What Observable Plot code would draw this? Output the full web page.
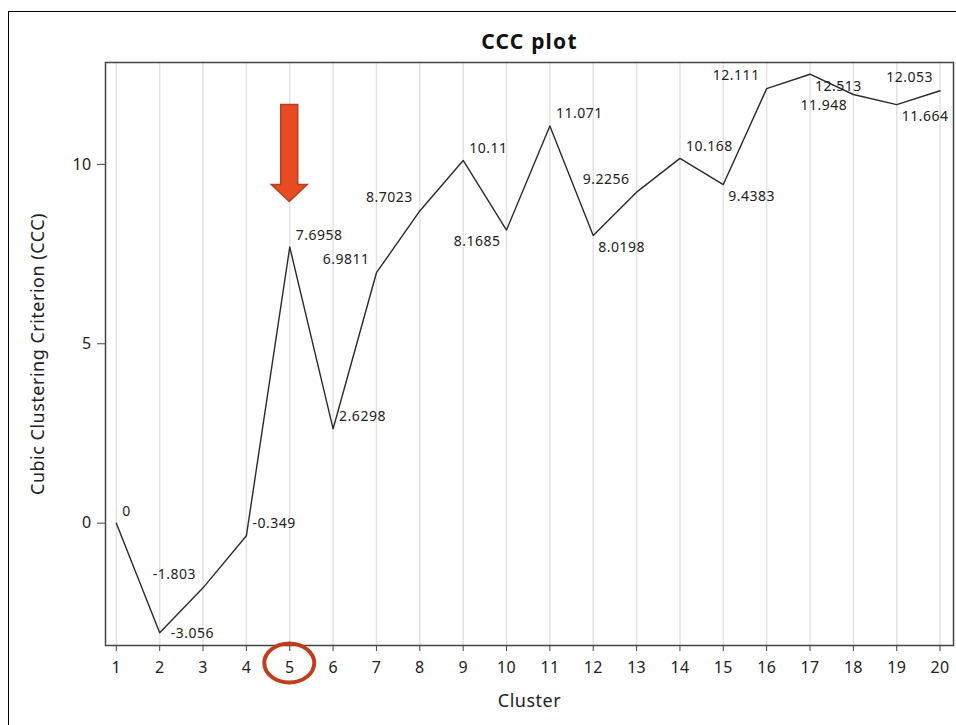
<!DOCTYPE html>
<html><head><meta charset="utf-8">
<script src="https://cdn.jsdelivr.net/npm/d3@7"></script>
<script src="https://cdn.jsdelivr.net/npm/@observablehq/plot@0.6"></script>
<style>
html,body{margin:0;padding:0;background:#fff;overflow:hidden;}
#wrap{position:relative;width:956px;height:725px;overflow:hidden;}
#border{position:absolute;left:8px;top:11px;width:1000px;height:1000px;border-left:1.5px solid #000;border-top:1.5px solid #000;}
#chart{position:absolute;left:0;top:0;}
</style></head>
<body><div id="wrap"><div id="border"></div><div id="chart"></div></div>
<script>
// ---- data ----
const clusters = [1,2,3,4,5,6,7,8,9,10,11,12,13,14,15,16,17,18,19,20];
const ccc = [0,-3.056,-1.803,-0.349,7.6958,2.6298,6.9811,8.7023,10.11,8.1685,11.071,8.0198,9.2256,10.168,9.4383,12.111,12.513,11.948,11.664,12.053];
const labelPlacement = ["ne","e","nw","ne","ne","ne","nw","nw","ne","sw","ne","se","nw","ne","se","nw","se","sw","se","nw"];
const xTicks = clusters;
const yTicks = [0,5,10];
const highlightCluster = 5;
const titleText = "CCC plot";
const xLabel = "Cluster";
const yLabel = "Cubic Clustering Criterion (CCC)";

const data = clusters.map((c,i)=>({cluster:c, ccc:ccc[i], label:String(ccc[i]), place:labelPlacement[i]}));

const font = "'Noto Sans', sans-serif";
const offsets = {
  ne:{dx:6, dy:-12, textAnchor:"start"},
  e:{dx:11, dy:1, textAnchor:"start"},
  se:{dx:5, dy:12, textAnchor:"start"},
  nw:{dx:-7, dy:-13, textAnchor:"end"},
  sw:{dx:-6, dy:11, textAnchor:"end"}
};
const labelMarks = Object.entries(offsets).map(([p,o]) =>
  Plot.text(data.filter(d=>d.place===p), {x:"cluster", y:"ccc", text:"label", fontSize:14, fill:"#222", ...o})
);

const plot = Plot.plot({
  width:956, height:725,
  marginLeft:105, marginRight:3, marginTop:62, marginBottom:80,
  style:{fontFamily:font, background:"transparent", color:"#222", overflow:"visible"},
  x:{domain:[0.75,20.31], label:null},
  y:{domain:[-3.41,12.84], label:null},
  marks:[
    Plot.gridX(xTicks,{stroke:"#e2e2e2", strokeOpacity:1, strokeWidth:1.5}),
    Plot.frame({stroke:"#444", strokeWidth:1.5}),
    Plot.axisX(xTicks,{tickSize:6, tickPadding:10, fontSize:16, label:null, stroke:"#444", tickFormat:d=>String(d)}),
    Plot.axisY(yTicks,{tickSize:8, tickPadding:6, fontSize:16, label:null, stroke:"#444"}),
    Plot.line(data,{x:"cluster", y:"ccc", stroke:"#2a2a2a", strokeWidth:1.4}),
    ...labelMarks,
    Plot.text([titleText],{text:d=>d, frameAnchor:"top", dy:-20, lineAnchor:"middle", textAnchor:"middle", fontWeight:"bold", fontSize:21, fill:"#111"}),
    Plot.text([xLabel],{text:d=>d, frameAnchor:"bottom", dy:56, lineAnchor:"middle", textAnchor:"middle", fontSize:18, fill:"#222"}),
    Plot.text([yLabel],{text:d=>d, frameAnchor:"left", dx:-67, rotate:-90, lineAnchor:"middle", textAnchor:"middle", fontSize:18, fill:"#222"})
  ]
});
document.getElementById("chart").appendChild(plot);

// letter spacing tweaks (text mark groups in mark order)
(function(){
  const groups = plot.querySelectorAll('g[aria-label="text"]');
  const n = groups.length;
  groups.forEach((g,i)=>{
    let ls = 0.5;
    if (i === n-3) ls = 1.2;      // title
    else if (i >= n-2) ls = 0.5;  // axis labels
    g.setAttribute("letter-spacing", ls);
  });
  plot.querySelectorAll('g[aria-label="x-axis tick label"], g[aria-label="y-axis tick label"]').forEach(g=>g.setAttribute("letter-spacing",0.3));
})();

// ---- annotations (arrow + circle) placed through the plot's scales ----
(function(){
  const sx = plot.scale("x"), sy = plot.scale("y");
  const px = sx.apply(highlightCluster);
  const py = sy.apply(ccc[clusters.indexOf(highlightCluster)]);
  const svg = d3.select(plot);
  const tipY = py - 45, headBase = tipY - 17, arrowTop = tipY - 97;
  const arrowPts = [[px-8.5,arrowTop],[px+8.5,arrowTop],[px+8.5,headBase],[px+18,headBase],[px,tipY],[px-18,headBase],[px-8.5,headBase]];
  svg.append("polygon")
    .attr("points", arrowPts.map(p=>p.join(",")).join(" "))
    .attr("fill","#E84B22").attr("stroke","#B5401E").attr("stroke-width",1.5).attr("stroke-linejoin","miter");
  const frameBottom = sy.range[0];
  svg.append("ellipse")
    .attr("cx", px).attr("cy", frameBottom + 18)
    .attr("rx", 25).attr("ry", 19.5)
    .attr("fill","none").attr("stroke","#C33D1D").attr("stroke-width",4);
})();
</script>
</body></html>
